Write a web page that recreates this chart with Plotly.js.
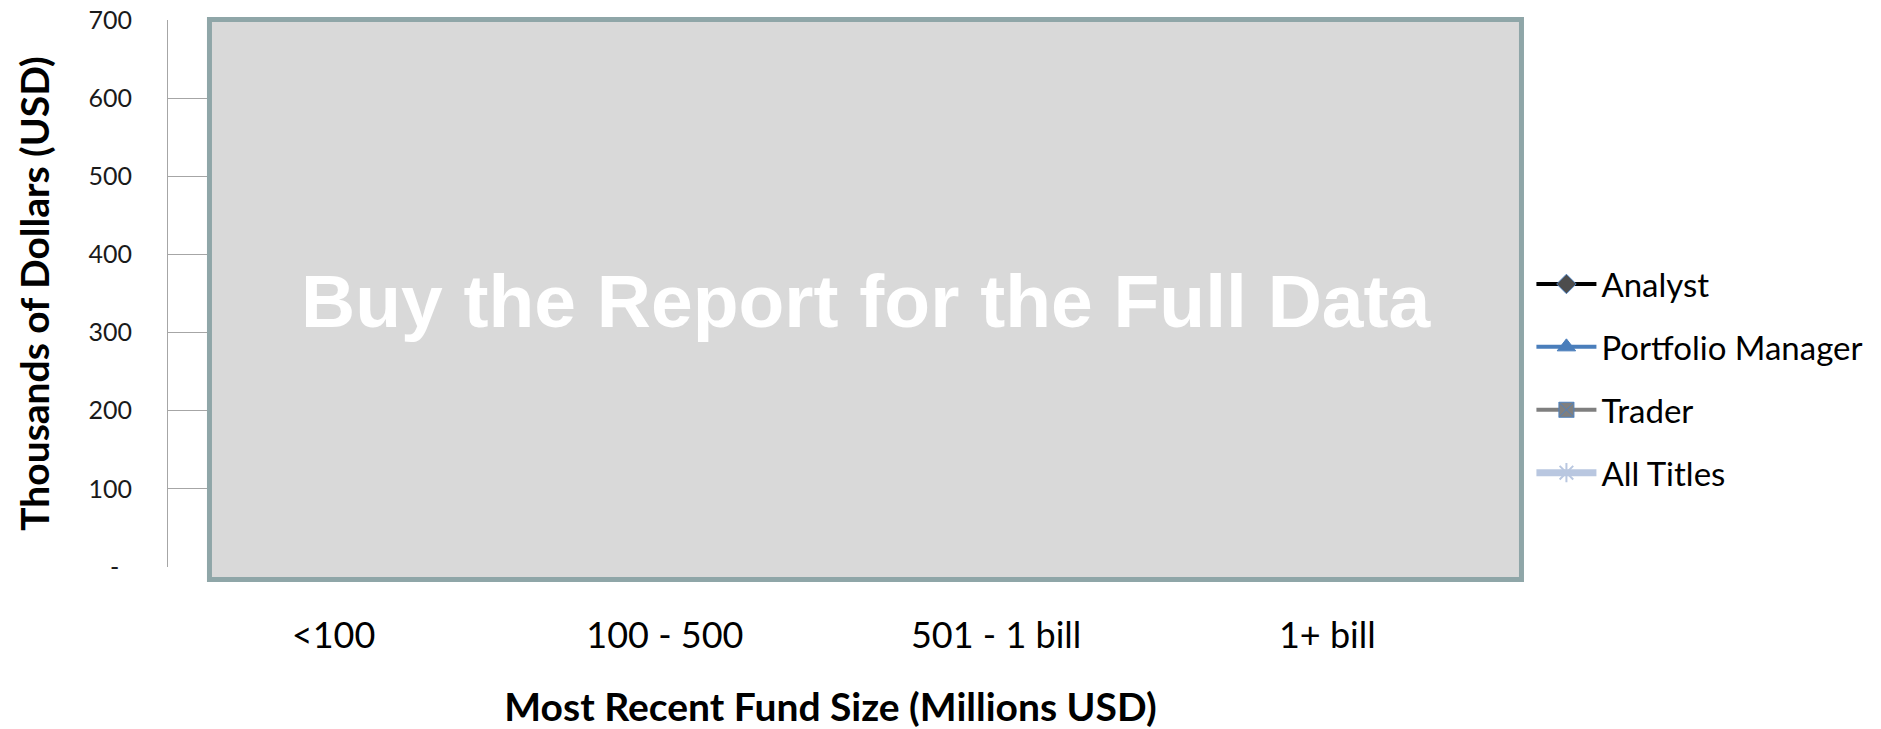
<!DOCTYPE html>
<html>
<head>
<meta charset="utf-8">
<script src="https://cdn.plot.ly/plotly-3.0.1.min.js"></script>
<style>html,body{margin:0;padding:0;background:#fff;}#chart{width:1881px;height:729px;}</style>
</head>
<body>
<div id="chart"></div>
<script>
// Categories (x axis)
var fundSizes = ["<100", "100 - 500", "501 - 1 bill", "1+ bill"];
// Series values are hidden under the overlay in the reference; no values can be read.
var analyst = [null, null, null, null];
var portfolioManager = [null, null, null, null];
var trader = [null, null, null, null];
var allTitles = [null, null, null, null];
// Y tick values and labels (accounting-style zero)
var yTickVals = [0, 100, 200, 300, 400, 500, 600, 700];
var yTickText = ["-\u00a0\u00a0", "100", "200", "300", "400", "500", "600", "700"];
var overlayText = "Buy the Report for the Full Data";

var FONT = "Lato, 'Open Sans', sans-serif";

var traces = [
  {name: "Analyst", x: fundSizes, y: analyst, type: "scatter", mode: "lines+markers", legendgroup: "a",
   line: {color: "#000000", width: 4},
   marker: {symbol: "diamond", size: 15, color: "#4d4d4d", line: {color: "#4f81bd", width: 1}}},
  {name: "Portfolio Manager", x: fundSizes, y: portfolioManager, type: "scatter", mode: "lines+markers", legendgroup: "b",
   line: {color: "#4a7ebb", width: 4},
   marker: {symbol: "triangle-up", size: 16, color: "#4a7ebb", line: {color: "#4a7ebb", width: 1}}},
  {name: "Trader", x: fundSizes, y: trader, type: "scatter", mode: "lines+markers", legendgroup: "c",
   line: {color: "#7f7f7f", width: 4},
   marker: {symbol: "square-x", size: 15, color: "#7f7f7f", line: {color: "#4f81bd", width: 1}}},
  {name: "All Titles", x: fundSizes, y: allTitles, type: "scatter", mode: "lines+markers", legendgroup: "d",
   line: {color: "#b9c7e0", width: 7},
   marker: {symbol: "asterisk", size: 16, color: "#b9c7e0", line: {color: "#b9c7e0", width: 2}}}
];

var layout = {
  width: 1881, height: 729,
  margin: {l: 168, r: 388, t: 20, b: 162, pad: 0},
  paper_bgcolor: "#ffffff", plot_bgcolor: "#ffffff",
  font: {family: FONT, color: "#000000"},
  showlegend: true,
  legend: {x: 1.029, xanchor: "left", y: 0.3446, yanchor: "middle",
    font: {family: FONT, size: 33, color: "#000000"},
    bgcolor: "rgba(0,0,0,0)", itemwidth: 60, tracegroupgap: 17, traceorder: "grouped"},
  xaxis: {
    type: "category", categoryorder: "array", categoryarray: fundSizes,
    range: [-0.5, 3.5], fixedrange: true,
    showgrid: false, zeroline: false, showline: false,
    ticks: "outside", ticklen: 37, tickcolor: "rgba(0,0,0,0)",
    tickfont: {family: FONT, size: 36, color: "#000000"},
    title: {text: "Most Recent Fund Size (Millions USD)", standoff: 46,
      font: {family: FONT, size: 39, color: "#000000", weight: 700}},
    automargin: false
  },
  yaxis: {
    range: [0, 700], fixedrange: true,
    tickmode: "array", tickvals: yTickVals, ticktext: yTickText,
    showgrid: true, gridcolor: "#a6a6a6", gridwidth: 1,
    zeroline: false, showline: true, linecolor: "#a6a6a6", linewidth: 1,
    ticks: "outside", ticklen: 30, tickcolor: "rgba(0,0,0,0)",
    tickfont: {family: FONT, size: 25, color: "#1a1a1a"},
    title: {text: "Thousands of Dollars (USD)", standoff: 26,
      font: {family: FONT, size: 39, color: "#000000", weight: 700}},
    automargin: false
  },
  shapes: [{
    type: "rect", xref: "paper", yref: "paper", layer: "above",
    x0: 0.0313, x1: 1.0215, y0: -0.0229, y1: 1.0009,
    fillcolor: "#d9d9d9", line: {color: "#8fa6a8", width: 5}
  }],
  annotations: [{
    text: overlayText, xref: "paper", yref: "paper",
    x: 0.5275, y: 0.4855, xanchor: "center", yanchor: "middle", showarrow: false,
    font: {family: "'Liberation Sans', Arial, sans-serif", size: 75, color: "#ffffff", weight: 700}
  }]
};

Plotly.newPlot("chart", traces, layout, {displayModeBar: false, staticPlot: true});
</script>
</body>
</html>
